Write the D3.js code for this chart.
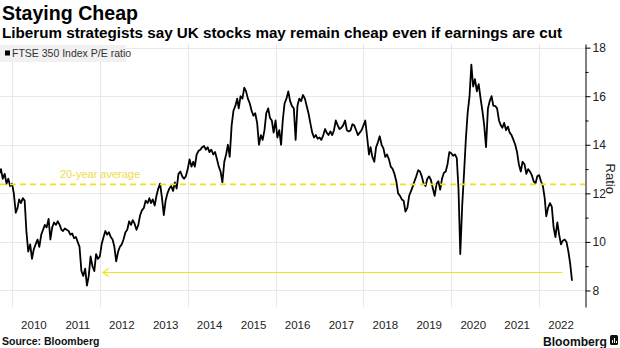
<!DOCTYPE html>
<html>
<head>
<meta charset="utf-8">
<script src="https://cdn.jsdelivr.net/npm/d3@7"></script>
<style>
  body { margin: 0; background: #fff; }
  svg { display: block; font-family: "Liberation Sans", Arial, sans-serif; }
</style>
</head>
<body>
<script>
// FTSE 350 P/E ratio, read on the 1st and 16th of each month
// 2009 starts at Sep 16, every other year at Jan 1
var pe2009 = [12.8, 13.0, 12.6, 12.8, 12.4, 12.6, 12.3];
var pe2010 = [12.4, 12.0, 11.2, 11.4, 11.75, 11.6, 11.8, 11.7, 10.4, 9.6, 9.9, 9.3,
              9.7, 9.9, 10.1, 9.8, 10.3, 10.5, 10.7, 10.6, 10.95, 10.1, 10.6, 10.8];
var pe2011 = [10.7, 10.85, 10.7, 10.5, 10.45, 10.55, 10.5, 10.45, 10.3, 10.35, 10.15, 10.2,
              10.0, 9.8, 8.8, 8.6, 8.9, 8.2, 8.6, 9.4, 9.0, 8.8, 9.5, 9.3];
var pe2012 = [9.4, 9.9, 10.2, 10.45, 10.3, 10.4, 10.2, 10.1, 9.8, 9.2, 9.6, 9.8,
              9.9, 10.1, 10.4, 10.5, 10.85, 10.7, 10.9, 10.75, 10.5, 10.7, 11.1, 11.3];
var pe2013 = [11.4, 11.7, 11.6, 11.8, 11.6, 11.75, 11.5, 11.9, 12.2, 12.4, 11.8, 11.1,
              11.7, 12.0, 12.2, 12.3, 12.1, 12.45, 12.2, 12.8, 12.9, 12.7, 12.6, 12.7];
var pe2014 = [13.0, 13.4, 13.1, 13.3, 13.1, 13.6, 13.75, 13.8, 13.9, 13.95, 13.8, 13.9,
              13.7, 13.8, 13.6, 13.7, 13.4, 13.1, 12.9, 12.45, 13.3, 13.6, 14.0, 13.5];
var pe2015 = [14.8, 15.4, 15.6, 15.9, 15.5, 16.0, 15.9, 16.35, 16.2, 15.9, 15.7, 15.4,
              15.2, 15.3, 14.9, 14.0, 14.4, 14.2, 14.6, 15.3, 15.5, 15.1, 15.0, 14.5];
var pe2016 = [15.0, 14.3, 14.6, 14.0, 15.0, 15.7, 15.9, 16.2, 15.8, 15.6, 15.5, 14.2,
              15.6, 15.9, 15.8, 16.05, 15.9, 15.6, 15.3, 14.9, 14.5, 14.3, 14.4, 14.25];
var pe2017 = [14.3, 14.2, 14.4, 14.65, 14.5, 14.4, 14.55, 14.4, 14.6, 15.0, 14.8, 14.65,
              14.7, 14.8, 15.0, 14.6, 14.55, 14.6, 14.85, 14.8, 14.6, 14.4, 14.5, 14.6];
var pe2018 = [14.8, 15.0, 14.3, 13.6, 13.9, 13.5, 13.3, 13.9, 14.1, 14.35, 14.0, 13.85,
              13.5, 13.6, 13.4, 13.1, 13.0, 12.8, 12.5, 12.0, 11.9, 11.75, 11.7, 11.25];
var pe2019 = [11.4, 11.9, 12.1, 12.3, 12.5, 12.7, 12.95, 12.9, 12.7, 12.4, 12.3, 12.6,
              12.7, 12.55, 12.2, 11.9, 12.4, 12.5, 12.15, 12.6, 12.85, 12.9, 13.2, 13.7];
var pe2020 = [13.65, 13.55, 13.6, 13.45, 12.2, 9.5, 11.5, 12.8, 14.2, 15.3, 16.0, 17.3,
              16.4, 16.7, 16.2, 16.5, 15.9, 15.4, 14.8, 13.9, 15.5, 15.8, 16.0, 15.6];
var pe2021 = [15.6, 15.5, 15.0, 14.8, 14.7, 14.9, 14.6, 14.75, 14.5, 14.4, 14.2, 14.0,
              13.7, 13.2, 12.9, 13.3, 13.2, 12.8, 13.0, 12.9, 12.75, 12.5, 12.4, 12.7];
var pe2022 = [12.75, 12.5, 12.3, 11.8, 11.05, 11.4, 11.6, 11.45, 10.6, 10.2, 10.8, 10.3,
              9.9, 10.05, 10.1, 10.0, 9.6, 9.1, 8.4];

var seriesYears = [2009, 2010, 2011, 2012, 2013, 2014, 2015, 2016, 2017, 2018, 2019, 2020, 2021, 2022];
var seriesValues = [pe2009, pe2010, pe2011, pe2012, pe2013, pe2014, pe2015, pe2016,
                    pe2017, pe2018, pe2019, pe2020, pe2021, pe2022];

var yearLabels = ["2010", "2011", "2012", "2013", "2014", "2015", "2016",
                  "2017", "2018", "2019", "2020", "2021", "2022"];
var gridYears = [2010, 2012, 2014, 2016, 2018, 2020, 2022];
var yTicks = [8, 10, 12, 14, 16, 18];
var yMinorTicks = [9, 11, 13, 15, 17];

var average20y = 12.37;
var arrowLevel = 8.74;
var arrowFrom = "2022-07-12";
var arrowTo = "2012-01-26";

var w = 620;
var h = 348;

var parse = d3.timeParse("%Y-%m-%d");

// flatten the yearly arrays into dated points
var pe = [];
seriesYears.forEach(function(yr, i) {
  var start = yr === 2009 ? 17 : 0;
  seriesValues[i].forEach(function(v, j) {
    var hm = start + j;
    pe.push({date: new Date(yr, Math.floor(hm / 2), hm % 2 ? 16 : 1), value: v});
  });
});

var x = d3.scaleTime()
  .domain([parse("2009-09-23"), parse("2023-01-17")])
  .range([0, 585]);

var y = d3.scaleLinear()
  .domain([7.32, 18.15])
  .range([307, 44]);

var svg = d3.select("body")
  .append("svg")
  .attr("width", w)
  .attr("height", h);

// titles
svg.append("text")
  .attr("x", 2)
  .attr("y", 20)
  .attr("font-size", "19.5px")
  .attr("font-weight", "bold")
  .attr("textLength", 136)
  .attr("lengthAdjust", "spacingAndGlyphs")
  .text("Staying Cheap");

svg.append("text")
  .attr("x", 2)
  .attr("y", 38)
  .attr("font-size", "14px")
  .attr("font-weight", "bold")
  .attr("textLength", 560)
  .attr("lengthAdjust", "spacingAndGlyphs")
  .text("Liberum strategists say UK stocks may remain cheap even if earnings are cut");

// grid
svg.append("g")
  .selectAll("line")
  .data(yTicks)
  .enter()
  .append("line")
  .attr("x1", 0)
  .attr("x2", 585)
  .attr("y1", function(d) { return Math.round(y(d)) + 0.5; })
  .attr("y2", function(d) { return Math.round(y(d)) + 0.5; })
  .attr("stroke", "#e8e8e8")
  .attr("stroke-width", 1);

svg.append("g")
  .selectAll("line")
  .data(gridYears)
  .enter()
  .append("line")
  .attr("x1", function(d) { return Math.round(x(new Date(d, 0, 1))) + 0.5; })
  .attr("x2", function(d) { return Math.round(x(new Date(d, 0, 1))) + 0.5; })
  .attr("y1", 44)
  .attr("y2", 307)
  .attr("stroke", "#e8e8e8")
  .attr("stroke-width", 1);

// legend
svg.append("rect")
  .attr("x", 0)
  .attr("y", 45)
  .attr("width", 126)
  .attr("height", 17)
  .attr("fill", "#f1f1f1");

svg.append("rect")
  .attr("x", 5)
  .attr("y", 50.5)
  .attr("width", 5)
  .attr("height", 5)
  .attr("fill", "#000");

svg.append("text")
  .attr("x", 12)
  .attr("y", 57)
  .attr("font-size", "10.5px")
  .attr("fill", "#333")
  .text("FTSE 350 Index P/E ratio");

// the ratio itself
var line = d3.line()
  .x(function(d) { return x(d.date); })
  .y(function(d) { return y(d.value); });

svg.append("path")
  .datum(pe)
  .attr("d", line)
  .attr("fill", "none")
  .attr("stroke", "#000")
  .attr("stroke-width", 1.8)
  .attr("stroke-linejoin", "round");

// 20-year average
svg.append("line")
  .attr("x1", 0)
  .attr("x2", 585)
  .attr("y1", y(average20y))
  .attr("y2", y(average20y))
  .attr("stroke", "#f2df1e")
  .attr("stroke-width", 1.6)
  .attr("stroke-dasharray", "6,4");

svg.append("text")
  .attr("x", 60)
  .attr("y", y(average20y) - 6)
  .attr("font-size", "11px")
  .attr("fill", "#eedb4a")
  .text("20-year average");

// arrow back to the 2011 low
var ax1 = x(parse(arrowFrom));
var ax2 = x(parse(arrowTo));
var ay = y(arrowLevel);

svg.append("line")
  .attr("x1", ax1)
  .attr("x2", ax2)
  .attr("y1", ay)
  .attr("y2", ay)
  .attr("stroke", "#f4e31a")
  .attr("stroke-width", 1.2);

svg.append("path")
  .attr("d", "M" + (ax2 + 6) + "," + (ay - 4) + "L" + ax2 + "," + ay + "L" + (ax2 + 6) + "," + (ay + 4))
  .attr("fill", "none")
  .attr("stroke", "#f4e31a")
  .attr("stroke-width", 1.2);

// right axis
var yAxis = svg.append("g")
  .attr("transform", "translate(585.5,0)")
  .call(d3.axisRight(y).tickValues(yTicks).tickSize(5).tickSizeOuter(0).tickPadding(2));

yAxis.select(".domain").attr("stroke", "#000");
yAxis.selectAll(".tick line").attr("stroke", "#000");
yAxis.selectAll("text")
  .attr("font-family", "Liberation Sans, Arial, sans-serif")
  .attr("font-size", "12px")
  .attr("fill", "#222");

svg.append("g")
  .attr("transform", "translate(585.5,0)")
  .call(d3.axisRight(y).tickValues(yMinorTicks).tickSize(3).tickFormat(""))
  .call(function(g) { g.select(".domain").remove(); })
  .selectAll(".tick line").attr("stroke", "#000");

svg.append("text")
  .attr("transform", "translate(606," + y(12.6) + ") rotate(90)")
  .attr("text-anchor", "middle")
  .attr("font-size", "13px")
  .attr("fill", "#222")
  .text("Ratio");

// year labels sit mid-year
svg.append("g")
  .selectAll("text")
  .data(yearLabels)
  .enter()
  .append("text")
  .attr("x", function(d) { return x(new Date(+d, 6, 2)); })
  .attr("y", 329)
  .attr("text-anchor", "middle")
  .attr("font-size", "11.5px")
  .attr("fill", "#222")
  .text(function(d) { return d; });

// footer
svg.append("text")
  .attr("x", 2)
  .attr("y", 345)
  .attr("font-size", "10.5px")
  .attr("font-weight", "bold")
  .attr("fill", "#111")
  .text("Source: Bloomberg");

svg.append("text")
  .attr("x", 607)
  .attr("y", 346)
  .attr("text-anchor", "end")
  .attr("font-size", "13px")
  .attr("font-weight", "bold")
  .attr("fill", "#111")
  .attr("textLength", 64)
  .attr("lengthAdjust", "spacingAndGlyphs")
  .text("Bloomberg");

var logo = svg.append("g").attr("transform", "translate(610,335)");
logo.append("rect")
  .attr("width", 8)
  .attr("height", 10)
  .attr("rx", 1.5)
  .attr("fill", "#111");
logo.append("rect").attr("x", 2).attr("y", 5).attr("width", 1).attr("height", 3).attr("fill", "#fff");
logo.append("rect").attr("x", 4).attr("y", 3).attr("width", 1).attr("height", 5).attr("fill", "#fff");
logo.append("rect").attr("x", 6).attr("y", 6).attr("width", 1).attr("height", 2).attr("fill", "#fff");
</script>
</body>
</html>
